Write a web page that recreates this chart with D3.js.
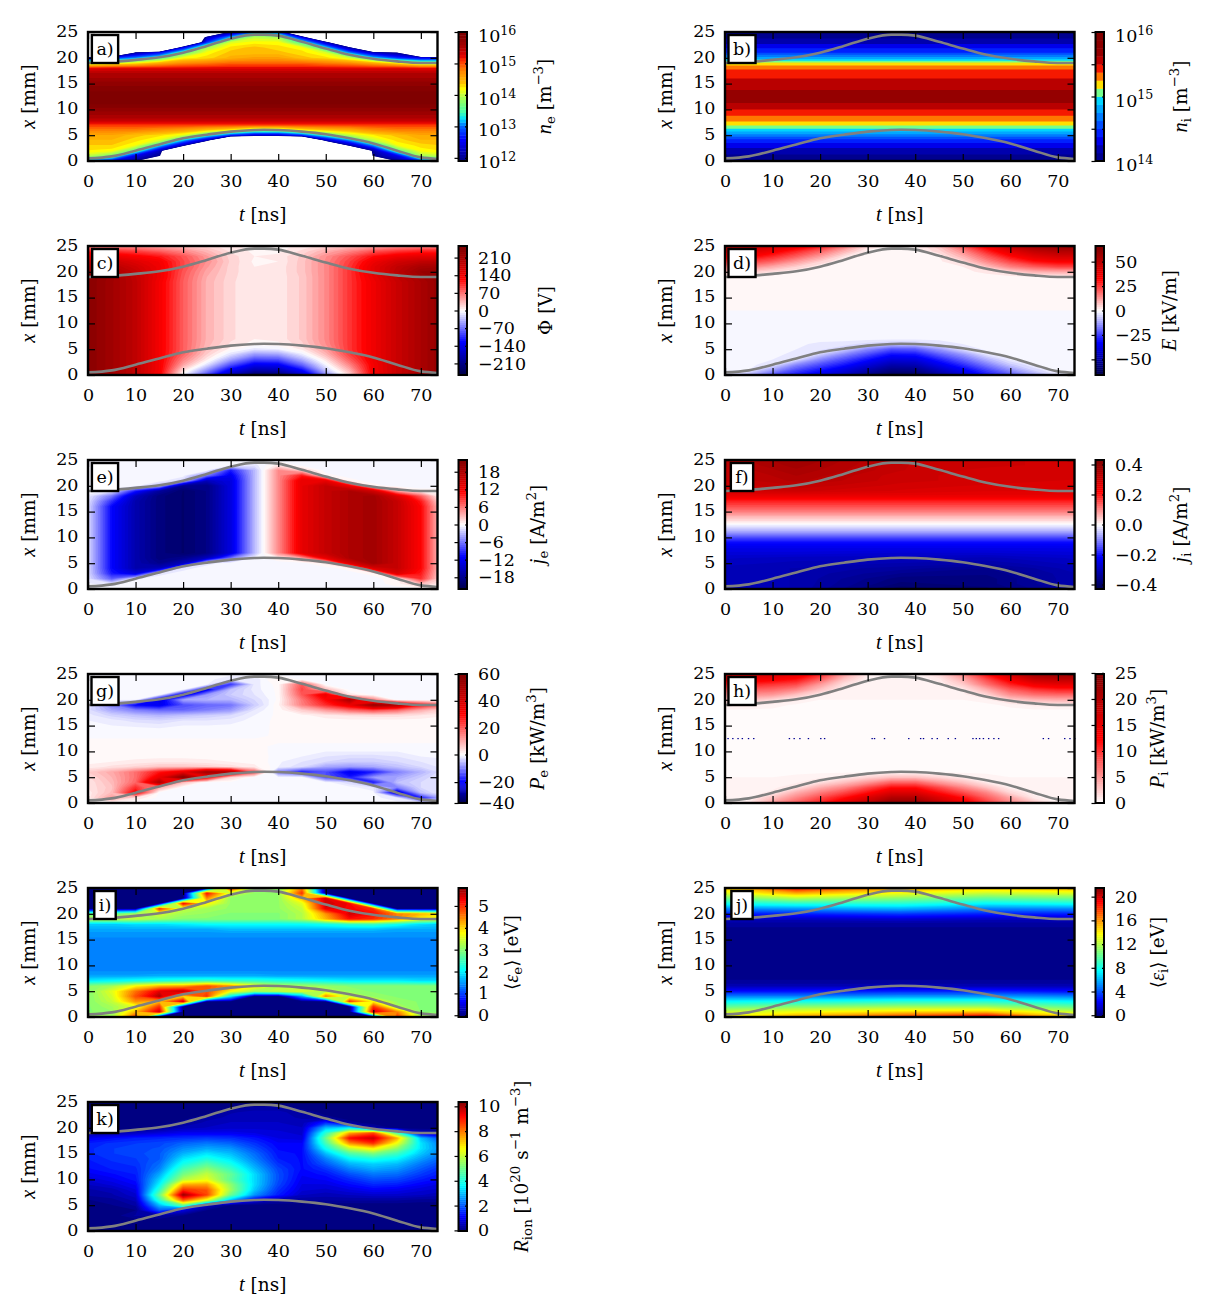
<!DOCTYPE html>
<html>
<head>
<meta charset="utf-8">
<script src="https://cdn.jsdelivr.net/npm/d3@7"></script>
<style>
	html, body { margin: 0; padding: 0; background: #fff; }
	svg { display: block; }
	text { font-family: "DejaVu Serif", serif; fill: #000; }
</style>
</head>
<body>
<svg id="chart" width="1218" height="1316"></svg>
<script>
const tFine = [0,5,10,15,20,25,30,35,40,45,50,55,60,65,70,73.5];
const tCoarse = [0,15,37,55,73.5];
const tEnds = [0,73.5];
const xRows = [25,24,23,22,21,20,19,18,17,16,15,14,13,12,11,10,9,8,7,6,5,4,3,2,1,0];

// sheath edges
const edgeT = [0,5,10,15,20,25,30,35,37,40,45,50,55,60,65,70,73.5];
const edgeLow = [0.5,0.9,2,3.2,4.4,5.1,5.7,6,6.05,6,5.7,5.2,4.4,3.4,2,0.7,0.4];
const edgeHigh = [19,19.2,19.6,20.1,21,22.3,23.7,24.5,24.5,24.3,23.1,21.8,20.6,19.8,19.3,19,19];

// a) log10 of n_e, o = far below the colour range (left white)
const o = 9;
const neLog = [
	[o,o,o,o,o,o,12.1,13,12.8,o,o,o,o,o,o,o],
	[o,o,o,o,o,12.2,13.2,14,13.9,12.5,o,o,o,o,o,o],
	[o,o,o,o,o,12.8,14.1,14.2,14.2,13.5,12.3,o,o,o,o,o],
	[o,o,o,o,12.5,13.9,14.3,14.4,14.3,14.2,13.3,12.1,o,o,o,o],
	[o,o,12.1,12.6,13.6,14.2,14.4,14.4,14.4,14.3,14.1,13.1,12.3,12,o,o],
	[12.5,12.7,13.1,13.5,14.2,14.3,14.5,14.6,14.6,14.4,14.3,14.05,13.3,12.8,12.5,12.5],
	[13.8,14,14.2,14.5,14.7,14.8,14.9,14.9,14.9,14.9,14.8,14.7,14.5,14.2,13.8,13.8],
	[15.2,15.25,15.25,15.25,15.25,15.25,15.25,15.25,15.25,15.25,15.25,15.25,15.25,15.25,15.2,15.2],
	[15.5,15.5,15.5,15.5,15.5,15.5,15.5,15.5,15.5,15.5,15.5,15.5,15.5,15.5,15.5,15.5],
	[15.6,15.6,15.6,15.6,15.6,15.6,15.6,15.6,15.6,15.6,15.6,15.6,15.6,15.6,15.6,15.6],
	[15.75,15.75,15.75,15.75,15.75,15.75,15.75,15.75,15.75,15.75,15.75,15.75,15.75,15.75,15.75,15.75],
	[15.85,15.85,15.85,15.85,15.85,15.85,15.85,15.85,15.85,15.85,15.85,15.85,15.85,15.85,15.85,15.85],
	[15.95,15.95,15.95,15.95,15.95,15.95,15.95,15.95,15.95,15.95,15.95,15.95,15.95,15.95,15.95,15.95],
	[15.95,15.95,15.95,15.95,15.95,15.95,15.95,15.95,15.95,15.95,15.95,15.95,15.95,15.95,15.95,15.95],
	[15.9,15.9,15.9,15.9,15.9,15.9,15.9,15.9,15.9,15.9,15.9,15.9,15.9,15.9,15.9,15.9],
	[15.75,15.75,15.75,15.75,15.75,15.75,15.75,15.75,15.75,15.75,15.75,15.75,15.75,15.75,15.75,15.75],
	[15.6,15.6,15.6,15.6,15.6,15.6,15.6,15.6,15.6,15.6,15.6,15.6,15.6,15.6,15.6,15.6],
	[15.45,15.45,15.45,15.45,15.45,15.45,15.45,15.45,15.45,15.45,15.45,15.45,15.45,15.45,15.45,15.45],
	[15.1,15.1,15.1,15.1,15.1,15.1,15.1,15.1,15.1,15.1,15.1,15.1,15.1,15.1,15.1,15.1],
	[14.8,14.8,14.8,14.7,14.6,14.4,14.2,13.8,13.8,14.2,14.4,14.5,14.7,14.8,14.8,14.8],
	[14.55,14.55,14.4,14.3,14.1,13.5,12.8,12.4,12.4,12.8,13.5,14,14.25,14.4,14.55,14.55],
	[14.45,14.45,14.3,14.1,13.2,12.3,o,o,o,o,12.3,13.1,14,14.3,14.45,14.45],
	[14.35,14.35,14.15,13.3,12.2,o,o,o,o,o,o,12.1,13.1,14.15,14.3,14.35],
	[14.25,14.2,13.6,12.3,o,o,o,o,o,o,o,o,12.1,13.6,14.2,14.25],
	[14,13.7,12.5,12,o,o,o,o,o,o,o,o,12,12.5,13.9,14],
	[13,12.6,12,o,o,o,o,o,o,o,o,o,o,12,12.8,13.1]
];

// b) log10 of n_i, no visible change with t
const niLog = [
	[14.05,14.05],[14.1,14.1],[14.2,14.2],[14.35,14.35],[14.5,14.5],[14.8,14.8],[15.15,15.15],[15.35,15.35],[15.45,15.45],
	[15.5,15.5],[15.52,15.52],[15.6,15.6],[15.7,15.7],[15.7,15.7],[15.6,15.6],[15.5,15.5],[15.4,15.4],[15.3,15.3],
	[15.15,15.15],[14.95,14.95],[14.7,14.7],[14.45,14.45],[14.3,14.3],[14.2,14.2],[14.1,14.1],[14.05,14.05]
];

// c) potential
const phiMid = [240,218,188,135,80,38,18,8,10,26,58,100,140,178,208,228];
const phi = [
	[50,50,50,40,30,20,10,5,5,10,20,30,40,50,55,55],
	[110,105,95,80,60,36,14,6,6,18,40,60,85,100,110,110],
	[150,145,130,115,85,50,20,8,10,26,55,85,120,140,150,150],
	[190,175,155,135,90,55,22,6,8,28,58,95,140,170,185,190],
	[215,195,170,140,90,50,20,8,10,28,58,100,150,185,210,215],
	[230,210,180,140,85,44,20,8,10,28,58,100,150,190,225,230],
	[240,220,185,140,82,40,19,8,10,26,58,100,145,185,215,230],
	phiMid,phiMid,phiMid,phiMid,phiMid,phiMid,phiMid,phiMid,phiMid,phiMid,phiMid,phiMid,
	[240,218,188,135,80,36,14,4,6,22,56,100,140,178,208,228],
	[240,218,188,135,80,32,4,-12,-8,10,48,100,140,178,208,228],
	[240,218,188,135,76,24,-15,-50,-45,-10,35,95,140,178,208,228],
	[240,218,188,135,62,10,-45,-90,-85,-40,15,80,140,178,208,228],
	[240,218,188,135,45,-15,-85,-135,-130,-75,-5,60,135,178,208,228],
	[240,218,188,135,20,-50,-130,-180,-175,-120,-25,40,135,178,208,228],
	[240,218,188,130,-5,-90,-180,-235,-230,-170,-60,20,130,178,208,228]
];

// d) field
const ePos = [1.2,1.2,1.2,1.2,1.2,1.2,1.2,1.2,1.2,1.2,1.2,1.2,1.2,1.2,1.2,1.2];
const eNeg = [-1.2,-1.2,-1.2,-1.2,-1.2,-1.2,-1.2,-1.2,-1.2,-1.2,-1.2,-1.2,-1.2,-1.2,-1.2,-1.2];
const field = [
	[50,50,45,38,30,18,5,1.2,1.2,8,22,36,50,58,62,62],
	[42,42,36,28,20,10,1.2,1.2,1.2,5,15,28,40,48,52,52],
	[34,34,28,21,13,4,1.2,1.2,1.2,2,10,21,32,40,44,44],
	[26,25,20,13,6,1.2,1.2,1.2,1.2,1.5,5,15,24,31,34,34],
	[17,16,11,6,2,1.2,1.2,1.2,1.2,1.2,2,8,16,21,24,24],
	[8,7,4,2,1.2,1.2,1.2,1.2,1.2,1.2,1.5,2.5,6,10,11,11],
	ePos,ePos,ePos,ePos,ePos,ePos,ePos,
	eNeg,eNeg,eNeg,eNeg,eNeg,eNeg,
	[-1.2,-1.2,-1.2,-1.5,-2.5,-3,-5,-7,-7,-4,-2,-1.2,-1.2,-1.2,-1.2,-1.2],
	[-1.2,-1.2,-1.2,-2,-3.5,-6,-15,-22,-21,-13,-4,-1.5,-1.2,-1.2,-1.2,-1.2],
	[-1.2,-1.2,-1.5,-2.5,-6,-15,-23,-31,-30,-21,-13,-3,-1.5,-1.2,-1.2,-1.2],
	[-1.2,-1.2,-2,-4,-15,-23,-31,-39,-38,-29,-20,-10,-2,-1.2,-1.2,-1.2],
	[-1.2,-1.5,-3,-15,-23,-30,-39,-47,-46,-36,-27,-17,-7,-2,-1.2,-1.2],
	[-1.5,-2,-12,-23,-30,-38,-47,-55,-54,-44,-34,-24,-14,-5,-1.5,-1.5],
	[-4,-10,-22,-30,-38,-45,-55,-63,-62,-52,-42,-30,-22,-12,-3,-2]
];

// e) electron current
const jeMid = [-1.5,-11,-16,-19,-20,-18.5,-13,-3,5,13,16,18,19,16,11,3.5];
const je = [
	[-.3,-.3,-.3,-.3,-.3,-.3,-.3,-.3,-.3,-.3,-.3,-.3,-.3,-.3,-.3,-.3],
	[-.3,-.3,-.3,-.3,-.3,-.3,-.3,-1,1,-.3,-.3,-.3,-.3,-.3,-.3,-.3],
	[-.3,-.3,-.3,-.3,-.3,-.3,-10,-3,5,2,-.3,-.3,-.3,-.3,-.3,-.3],
	[-.3,-.3,-.3,-.3,-.3,-6,-12,-3,5,10,.3,-.3,-.3,-.3,-.3,-.3],
	[-.3,-.3,-.3,-.3,-2,-15,-13,-3,5,13,13,.3,-.3,-.3,-.3,-.3],
	[-.3,-.3,-.3,-3,-18,-18.5,-13,-3,5,13,16,12,.3,-.3,-.3,-.3],
	[-.3,-1,-10,-17,-20,-18.5,-13,-3,5,13,16,18,15,4,.3,.3],
	[-.8,-6,-15,-19,-20,-18.5,-13,-3,5,13,16,18,19,14,7,1],
	[-1.2,-9,-16,-19,-20,-18.5,-13,-3,5,13,16,18,19,16,10,2.5],
	jeMid,jeMid,jeMid,jeMid,jeMid,jeMid,jeMid,jeMid,jeMid,jeMid,
	[-1.5,-11,-16,-19,-18,-15,-6,-.5,.5,4,13,18,19,16,11,3.5],
	[-1.5,-11,-16,-18,-15,-1,-.3,-.3,-.3,-.3,1,14,19,16,11,3.5],
	[-1.5,-11,-16,-15,-1,-.3,-.3,-.3,-.3,-.3,-.3,.3,14,16,11,3.5],
	[-1.5,-10,-13,-1,-.3,-.3,-.3,-.3,-.3,-.3,-.3,-.3,.3,14,10,3],
	[-1.2,-7,-.8,-.3,-.3,-.3,-.3,-.3,-.3,-.3,-.3,-.3,-.3,.5,9,2.5],
	[-.6,-1,-.3,-.3,-.3,-.3,-.3,-.3,-.3,-.3,-.3,-.3,-.3,.3,3,1],
	[-.3,-.3,-.3,-.3,-.3,-.3,-.3,-.3,-.3,-.3,-.3,-.3,-.3,-.3,-.3,-.3]
];

// f) ion current, columns at tCoarse
const ji = [
	[.33,.38,.31,.30,.29],[.33,.37,.31,.30,.29],[.32,.36,.31,.29,.29],[.31,.35,.30,.29,.29],[.31,.34,.30,.29,.28],
	[.30,.32,.29,.28,.28],[.29,.30,.28,.27,.27],[.25,.25,.25,.25,.25],[.19,.19,.19,.19,.19],[.15,.15,.15,.15,.15],
	[.11,.11,.11,.11,.11],[.06,.06,.06,.06,.06],[.02,.02,.02,.02,.02],[-.03,-.03,-.03,-.03,-.03],[-.08,-.08,-.08,-.08,-.08],
	[-.15,-.15,-.15,-.15,-.15],[-.21,-.21,-.21,-.21,-.21],[-.24,-.24,-.24,-.24,-.24],[-.26,-.26,-.27,-.27,-.26],
	[-.28,-.29,-.29,-.30,-.28],[-.29,-.30,-.31,-.32,-.29],[-.30,-.31,-.33,-.35,-.30],[-.30,-.31,-.35,-.36,-.31],
	[-.30,-.31,-.37,-.37,-.31],[-.30,-.31,-.38,-.37,-.31],[-.30,-.31,-.40,-.38,-.32]
];

// g) electron power
const pe = [
	[-.5,-.5,-.5,-.5,-.5,-.5,-.5,-.5,-.5,-.5,-.5,-.5,-.5,-.5,-.5,-.5],
	[-.5,-.5,-.5,-.5,-.5,-.5,-2,-2,2,-.5,-.5,-.5,-.5,-.5,-.5,-.5],
	[-.5,-.5,-.5,-.5,-.5,-.5,-16,-1.5,.5,20,-.5,-.5,-.5,-.5,-.5,-.5],
	[-.5,-.5,-.5,-.5,-.5,-22,-5,-1.5,.3,22,8,-.5,-.5,-.5,-.5,-.5],
	[-.5,-.5,-.5,-.5,-24,-8,-4,-2,.3,20,35,3,-.5,-.5,-.5,-.5],
	[-.5,-.5,-1,-24,-7,-6,-6,-3,.3,16,30,50,15,-.5,-.5,-.5],
	[-1.5,-10,-20,-22,-14,-12,-11,-4,1,15,25,35,55,48,28,20],
	[-2.5,-7,-10,-12,-12,-10,-8,-2,.5,6,12,18,22,18,10,6],
	[-1.5,-3.5,-5,-6,-5,-4,-3,-1,.3,1,2.5,3.5,4,4,3,2],
	[-1,-1.5,-2.5,-3,-2,-2,-1.5,-.6,.3,.5,.8,1,1,1,.8,.6],
	[-.6,-1,-1.2,-1.5,-1,-1,-.8,-.5,.3,.4,.5,.5,.5,.5,.4,.4],
	[-.5,-.5,-.5,-.5,-.5,-.5,-.5,-.5,.3,.3,.3,.3,.3,.3,.3,.3],
	[-.4,-.4,-.4,-.4,-.4,-.4,-.4,-.4,.3,.3,.3,.3,.3,.3,.3,.3],
	[.4,.4,.4,.4,.4,.4,.4,.4,.3,.3,.3,.3,.3,.3,.3,.3],
	[.5,.5,.5,.5,.5,.5,.5,.5,-.4,-.4,-.4,-.4,-.4,-.4,-.4,-.4],
	[.5,.5,.5,.5,.5,.5,.5,.5,-.4,-.5,-1,-1,-1,-1,-.8,-.5],
	[.6,.8,1,1,1,1,.8,.6,-.4,-1,-2,-2.5,-2.5,-2,-1,-.8],
	[1,1.5,2,2.5,2.5,2,1.5,1,-.8,-2,-3,-4,-4,-3,-2,-1.5],
	[2,3.5,5,7,7,6,4,2,-1,-3,-7,-8,-7,-5,-3,-2],
	[6,10,17,28,35,52,48,20,-10,-18,-14,-22,-18,-10,-6,-3],
	[4,9,17,35,58,32,5,-.5,-.5,-.5,-14,-18,-8,-7,-4,-2],
	[3,8,18,50,8,-.5,-.5,-.5,-.5,-.5,-.5,-3,-18,-5,-3,-2],
	[3,7,25,10,-.5,-.5,-.5,-.5,-.5,-.5,-.5,-.5,-2,-10,-3,-2],
	[2,8,32,-.5,-.5,-.5,-.5,-.5,-.5,-.5,-.5,-.5,-.5,-25,-5,-2],
	[2,12,3,-.5,-.5,-.5,-.5,-.5,-.5,-.5,-.5,-.5,-.5,-2,-18,-8],
	[-.5,-.5,-.5,-.5,-.5,-.5,-.5,-.5,-.5,-.5,-.5,-.5,-.5,-.5,-1,-3]
];

// h) ion power
const piMid = [.15,.15,.15,.15,.15,.15,.15,.15,.15,.15,.15,.15,.15,.15,.15,.15];
const pi = [
	[17,17,17,15,11,5,1,.5,.5,2,6,12,18,22,23,22],
	[14,14,13.5,12,8,3,.6,.4,.4,1,4,9,14,18,19,19],
	[11,11,10,9,5,1.5,.5,.4,.4,.7,2.5,7,11,14,15,15],
	[8,8,7.5,6,3,.8,.4,.4,.4,.5,1,4,8,10,11,11],
	[5.5,5.5,5,3,1,.4,.4,.4,.4,.4,.6,2,5.5,7,7.5,7.5],
	[3,3,2,1,.4,.4,.4,.4,.4,.4,.4,.6,2.5,3.5,4,4],
	[1,1,.6,.3,.3,.3,.3,.3,.3,.3,.3,.3,.5,1,1,1],
	[.3,.3,.3,.3,.3,.3,.3,.3,.3,.3,.3,.3,.3,.3,.3,.3],
	piMid,piMid,piMid,piMid,piMid,piMid,piMid,piMid,piMid,piMid,
	[.2,.2,.2,.2,.2,.2,.2,.2,.2,.2,.2,.2,.2,.2,.2,.2],
	[.3,.3,.3,.3,.3,.3,.3,.3,.3,.3,.3,.3,.3,.3,.3,.3],
	[.4,.4,.4,.5,.7,1,2,3,3,2,1,.6,.4,.4,.4,.4],
	[.4,.4,.5,.7,1.5,3,5,7.5,7.5,5,3,1,.5,.4,.4,.4],
	[.4,.4,.6,1.5,4,6,9,12,12,9,6,3,.7,.5,.4,.4],
	[.4,.5,1,4,6.5,9,12,16,16,12,9,6,2,.6,.4,.4],
	[.5,.6,3,6,9,12,16,20,20,16,12,8,4.5,1,.4,.4],
	[.6,1,5,8,11,15,19,24,24,19,14,10,6,3,.5,.5]
];
// the blue specks near the middle of h)
const speckT = [.5,1.5,2.6,3.5,4.8,5.9,13.4,14.4,15.6,17.4,20,20.8,30.8,31.3,33.4,38.5,41,41.6,43.4,44.5,46.8,48.3,52,52.7,53.4,54.2,55.3,56.4,57.4,66.8,67.9,71.3,72.4,73.4];
const speckX = 12.6;

// i) mean electron energy
const eeMid = [1.35,1.35,1.35,1.35,1.35,1.35,1.35,1.35,1.35,1.35,1.35,1.35,1.35,1.35,1.35,1.35];
const ee = [
	[0,0,0,0,0,0,5.2,3,3,4.5,0,0,0,0,0,0],
	[0,0,0,0,0,5.2,3.5,3.1,3.1,5,0,0,0,0,0,0],
	[0,0,0,0,0,4.5,3.1,3.1,3.1,4.2,5.5,0,0,0,0,0],
	[0,0,0,0,5.3,3.8,3.1,3.1,3.1,3.6,5.5,5.3,0,0,0,0],
	[0,0,0,5,3.4,3.2,3.1,3.1,3.1,3.4,5.4,5.3,5,0,0,0],
	[2.8,2.8,3.2,3.5,3.2,3.1,3,3,3,3.3,4.4,5.5,5.2,4.5,4.2,4],
	[3.4,3.4,3.4,3.2,3,3,3,3,3,3.3,4.2,5.2,5,4.5,3.8,3.6],
	[1.8,1.8,1.9,1.9,2,2.1,2.1,2.1,2.1,2.1,2.2,2.4,2.5,2.2,1.9,1.8],
	[1.6,1.6,1.6,1.6,1.6,1.6,1.7,1.7,1.7,1.7,1.7,1.7,1.7,1.6,1.6,1.6],
	[1.45,1.45,1.45,1.45,1.45,1.45,1.45,1.45,1.45,1.45,1.45,1.45,1.45,1.45,1.45,1.45],
	[1.4,1.4,1.4,1.4,1.4,1.4,1.4,1.4,1.4,1.4,1.4,1.4,1.4,1.4,1.4,1.4],
	[1.35,1.35,1.35,1.35,1.35,1.35,1.35,1.35,1.35,1.35,1.35,1.35,1.35,1.35,1.35,1.35],
	eeMid,eeMid,eeMid,eeMid,
	[1.4,1.4,1.4,1.4,1.4,1.4,1.4,1.4,1.4,1.4,1.4,1.4,1.4,1.4,1.4,1.4],
	[1.55,1.55,1.55,1.6,1.6,1.6,1.6,1.6,1.55,1.55,1.55,1.55,1.55,1.55,1.55,1.55],
	[2,2.1,2.2,2.3,2.4,2.5,2.4,2.4,2.3,2.2,2.1,2,2,2,1.9,1.9],
	[3,3.2,3.8,4.2,4.3,4.8,4.4,3.8,3.3,3.2,3.1,3,3,3,3,3],
	[3,3.6,4.6,5.4,5.6,4.8,3.8,3.2,3.4,3.6,3.3,3.1,3,3,3,3],
	[3,3.5,4.8,5.7,4,5,2,0,0,1.5,4.5,3.4,3.1,3,3,3],
	[3,3.4,4.4,4.2,5.5,0,0,0,0,0,0,5,3.8,3.1,3,3],
	[3,3.2,3.6,5,0,0,0,0,0,0,0,0,5,3.2,3,3],
	[3,3.1,4.2,5.5,0,0,0,0,0,0,0,0,5.5,4.5,3,3],
	[3.2,3.2,5,0,0,0,0,0,0,0,0,0,0,5,3.3,3.2]
];

// j) mean ion energy, columns at tCoarse
const ei = [
	[15,19,16,15,15.5],[13,15.5,13.5,12.5,13],[10.5,12,11,10,10.5],[8,8.5,8.5,7.5,8],[5.2,5.5,6,5,5.2],[3,3,3.5,3,3],
	[1.2,1.2,1.5,1.2,1.2],[.5,.5,.5,.5,.5],[.3,.3,.3,.3,.3],[.3,.3,.3,.3,.3],[.3,.3,.3,.3,.3],[.3,.3,.3,.3,.3],[.3,.3,.3,.3,.3],
	[.3,.3,.3,.3,.3],[.3,.3,.3,.3,.3],[.3,.3,.3,.3,.3],[.3,.3,.3,.3,.3],[.3,.3,.3,.3,.3],[.4,.4,.4,.4,.4],[1,1,1,1,1],
	[2.5,2.6,3,3,2.5],[5,5,5.5,5.5,5],[7.5,8,8.5,8.5,7.5],[10,11,11.5,11.5,10],[12.5,13.5,14.5,15,12.5],[14,16,18,20,15]
];

// k) ionisation rate
const rIon = [
	[0,0,0,0,0,0,0,0,0,0,0,0,0,0,0,0],
	[0,0,0,0,0,0,.1,.3,.3,0,0,0,0,0,0,0],
	[0,0,0,0,0,0,.4,.5,.5,.3,0,0,0,0,0,0],
	[0,0,0,0,0,.3,.5,.5,.5,.4,.2,0,0,0,0,0],
	[0,0,0,0,.2,.5,.6,.6,.6,.5,1.5,.2,0,0,0,0],
	[0,0,0,.2,.5,.6,.7,.7,.7,.6,3,3.5,.4,0,0,0],
	[.3,.4,.6,.8,1,1,1,.9,.8,.7,4.2,7.5,8.5,4.5,.6,.4],
	[1,1.2,1.4,1.5,1.6,1.7,1.6,1.3,.9,.8,5,9.2,9.8,7.5,3,2],
	[1.4,1.6,1.7,1.8,2.1,2.3,2.1,1.6,1.1,1.1,4.5,7.8,8.8,6.5,3.4,2.5],
	[1.5,1.7,1.8,1.9,2.5,2.8,2.6,1.9,1.2,1.2,3.8,6,6.8,5.4,3.4,2.6],
	[1.5,1.7,1.8,2,2.9,3.4,3,2.2,1.3,1.2,3,4.6,5.2,4.4,3.1,2.5],
	[1.4,1.6,1.7,2,3.4,4,3.4,2.4,1.4,1.2,2.4,3.6,4,3.6,2.7,2.2],
	[1.3,1.5,1.6,2.2,3.9,4.7,3.9,2.7,1.6,1.2,2,2.9,3.2,3,2.3,1.9],
	[1.2,1.4,1.5,2.4,4.5,5.4,4.4,3,1.8,1.2,1.6,2.4,2.8,2.6,2,1.6],
	[1,1.2,1.4,2.8,5.1,6,4.9,3.3,1.9,1.1,1.3,1.9,2.3,2.2,1.7,1.4],
	[.8,1,1.3,3.2,5.8,6.4,4.8,3.3,1.9,1,1.1,1.5,1.9,1.8,1.4,1.2],
	[.6,.8,1.1,3.6,7.5,7.6,5.4,3.3,1.8,.9,.9,1.2,1.5,1.4,1.1,.9],
	[.4,.5,.9,4.2,8.8,8.4,5.6,3.1,1.6,.8,.7,.9,1.1,1,.8,.7],
	[.3,.4,.7,5,10.2,8.6,5,2.6,1.4,.6,.5,.6,.7,.7,.6,.5],
	[.1,.2,.5,4.2,8.4,6.5,3,1,.4,.3,.3,.3,.3,.3,.2,.2],
	[0,.1,.3,3,5,.6,.1,0,0,0,0,0,0,0,0,0],
	[0,0,.1,2,.8,.1,0,0,0,0,0,0,0,0,0,0],
	[0,0,.3,.3,.1,0,0,0,0,0,0,0,0,0,0,0],
	[0,0,0,0,0,0,0,0,0,0,0,0,0,0,0,0],
	[0,0,0,0,0,0,0,0,0,0,0,0,0,0,0,0],
	[0,0,0,0,0,0,0,0,0,0,0,0,0,0,0,0]
];

// Colour tick labels
const ticksNe = [12,13,14,15,16];
const ticksNi = [14,14.5,15,15.5,16];
const ticksPhi = [-210,-140,-70,0,70,140,210];
const ticksE = [-50,-25,0,25,50];
const ticksJe = [-18,-12,-6,0,6,12,18];
const ticksJi = [-.4,-.2,0,.2,.4];
const ticksPe = [-40,-20,0,20,40,60];
const ticksPi = [0,5,10,15,20,25];
const ticksEe = [0,1,2,3,4,5];
const ticksEi = [0,4,8,12,16,20];
const ticksR = [0,2,4,6,8,10];

const tTicks = [0,10,20,30,40,50,60,70];
const xTicks = [0,5,10,15,20,25];

// Colour maps
function jet(lo, hi) {
	let pos = [0,.11,.35,.5,.64,.89,1];
	return d3.scaleLinear().domain(pos.map(p => lo + p * (hi - lo)))
		.range(['#00007f','#0000ff','#00ffff','#7dff7a','#ffff00','#ff0000','#7f0000']).clamp(true);
}
function seismic(r) {
	return d3.scaleLinear().domain([-r,-r / 2,0,r / 2,r])
		.range(['#00004c','#0000ff','#ffffff','#ff0000','#7f0000']).clamp(true);
}
let neColor = d3.scaleLinear()
	.domain([11.9,12.6,13,13.25,13.45,13.75,14,14.2,14.4,14.8,15.1,15.25,15.6,15.9])
	.range(['#00007f','#0000ff','#0064ff','#00e0ff','#40ffb0','#80ff70','#c0ff40','#ffff00','#ffc000','#ff8000','#ff3000','#e00000','#a00000','#800000']).clamp(true);
let niColor = d3.scaleLinear()
	.domain([14,14.2,14.35,14.7,14.95,15.05,15.15,15.3,15.42,15.5,15.65,16])
	.range(['#00007f','#0000b0','#0000ff','#0080ff','#00d8ff','#60ffa0','#ffff00','#ff8000','#ff2000','#d00000','#980000','#7f0000']).clamp(true);
let peColor = d3.scaleLinear().domain([-40,-20,0,30,60])
	.range(['#00004c','#0000ff','#ffffff','#ff0000','#7f0000']).clamp(true);
let piColor = d3.scaleLinear().domain([0,12.5,25]).range(['#ffffff','#ff0000','#7f0000']).clamp(true);

let f1 = d3.format('.1f');
let sup = (s) => [s,'sup'];
let sub = (s) => [s,'sub'];
let ital = (s) => [s,'i'];

let panels = [
	{ tag: 'a)', col: 0, row: 0, rows: neLog, t: tFine, color: neColor, levels: d3.range(11.9,16.001,.1025), ticks: ticksNe, log: true, labelX: 92,
		label: [ital('n'),sub('e'),[' [m'],sup('−3'),[']']] },
	{ tag: 'b)', col: 1, row: 0, rows: niLog, t: tEnds, color: niColor, levels: d3.range(14,16.001,.125), ticks: ticksNi, log: true, labelX: 91,
		label: [ital('n'),sub('i'),[' [m'],sup('−3'),[']']] },
	{ tag: 'c)', col: 0, row: 1, rows: phi, t: tFine, color: seismic(250), levels: d3.range(-256,256.1,8), ticks: ticksPhi, labelX: 93,
		label: [['Φ [V]']] },
	{ tag: 'd)', col: 1, row: 1, rows: field, t: tFine, color: seismic(65), levels: d3.range(-66,66.1,2), ticks: ticksE, labelX: 80,
		label: [ital('E'),[' [kV/m]']] },
	{ tag: 'e)', col: 0, row: 2, rows: je, t: tFine, color: seismic(22), levels: d3.range(-22,22.01,.6875), ticks: ticksJe, labelX: 85,
		label: [ital('j'),sub('e'),[' [A/m'],sup('2'),[']']] },
	{ tag: 'f)', col: 1, row: 2, rows: ji, t: tCoarse, color: seismic(.43), levels: d3.range(-.43,.4301,.0134375), ticks: ticksJi, fmt: f1, labelX: 91,
		label: [ital('j'),sub('i'),[' [A/m'],sup('2'),[']']] },
	{ tag: 'g)', col: 0, row: 3, rows: pe, t: tFine, color: peColor, levels: d3.range(-40,0,1).concat(d3.range(0,60.1,1.5)), ticks: ticksPe, labelX: 85,
		barDomain: [-40,-20,0,60], barFrac: [0,.162,.376,1],
		label: [ital('P'),sub('e'),[' [kW/m'],sup('3'),[']']] },
	{ tag: 'h)', col: 1, row: 3, rows: pi, t: tFine, color: piColor, levels: d3.range(0,25.01,.4), ticks: ticksPi, specks: speckT, labelX: 68,
		label: [ital('P'),sub('i'),[' [kW/m'],sup('3'),[']']] },
	{ tag: 'i)', col: 0, row: 4, rows: ee, t: tFine, color: jet(0,5.9), levels: d3.range(-.08,5.92,.1), ticks: ticksEe, labelX: 59,
		label: [['⟨'],ital('ε'),sub('e'),['⟩ [eV]']] },
	{ tag: 'j)', col: 1, row: 4, rows: ei, t: tCoarse, color: jet(0,21.5), levels: d3.range(-.3,21.51,.34), ticks: ticksEi, labelX: 68,
		label: [['⟨'],ital('ε'),sub('i'),['⟩ [eV]']] },
	{ tag: 'k)', col: 0, row: 5, rows: rIon, t: tFine, color: jet(0,10.4), levels: d3.range(-.05,10.41,.16), ticks: ticksR, labelX: 69,
		label: [ital('R'),sub('ion'),[' [10'],sup('20'),['  s'],sup('−1'),['  m'],sup('−3'),[']']] }
];

let colLeft = [88,725];
let rowTop = [32,246,460,674,888,1102];
let plotW = 349.5;
let plotH = 129;
let barGap = 21;
let barW = 8.5;
let tickFont = 17.5;
let labelFont = 18.5;

let svg = d3.select('#chart');

// writes a label made of plain, italic, sub and superscript runs
function richText(sel, parts, size, startDy) {
	let shift = 0;
	parts.forEach(function(p, i) {
		let kind = p[1];
		let target = kind == 'sub' ? size * .25 : kind == 'sup' ? -size * .42 : 0;
		let ts = sel.append('tspan')
			.attr('dy', (target - shift) + (i == 0 && startDy ? startDy : 0))
			.attr('font-size', kind == 'sub' || kind == 'sup' ? size * .72 : size)
			.text(p[0]);
		if(kind == 'i') ts.attr('font-style', 'italic').attr('font-family', '"Liberation Serif", serif').attr('font-size', size * 1.1);
		shift = target;
	});
}

function styleAxis(g) {
	g.select('.domain').remove();
	g.selectAll('line').attr('stroke', '#000').attr('stroke-width', 1.2);
}

panels.forEach(function(p, idx) {
	let left = colLeft[p.col];
	let top = rowTop[p.row];
	let g = svg.append('g').attr('class', 'panel').attr('transform', 'translate(' + left + ',' + top + ')');

	let tScale = d3.scaleLinear().domain([0,73.5]).range([0,plotW]);
	let xScale = d3.scaleLinear().domain([0,25]).range([plotH,0]);

	g.append('clipPath').attr('id', 'clip' + idx)
		.append('rect').attr('width', plotW).attr('height', plotH);

	// filled contours on the read grid, in grid index space
	let nCols = p.rows[0].length;
	let nRows = p.rows.length;
	let sx = d3.scaleLinear().domain(p.t.map((d, i) => i + .5)).range(p.t.map(tScale));
	let sy = d3.scaleLinear().domain(xRows.map((d, i) => i + .5)).range(xRows.map(xScale));
	let path = d3.geoPath(d3.geoTransform({
		point: function(a, b) { this.stream.point(sx(a), sy(b)); }
	}));
	let bands = d3.pairs(p.levels);
	let contours = d3.contours()
		.size([nCols,nRows])
		.thresholds(p.levels.slice(0, -1))(p.rows.flat());

	g.append('g').attr('clip-path', 'url(#clip' + idx + ')')
		.selectAll('path')
		.data(contours)
		.enter()
		.append('path')
		.attr('d', path)
		.attr('fill', (d, i) => p.color((bands[i][0] + bands[i][1]) / 2));

	if(p.specks) {
		g.append('g').selectAll('rect')
			.data(p.specks)
			.enter()
			.append('rect')
			.attr('x', (d) => tScale(d))
			.attr('y', xScale(speckX))
			.attr('width', 1.4)
			.attr('height', 1.2)
			.attr('fill', '#000090');
	}

	// sheath edges
	let line = d3.line()
		.x((d, i) => tScale(edgeT[i]))
		.y((d) => xScale(d))
		.curve(d3.curveMonotoneX);
	g.append('g').attr('clip-path', 'url(#clip' + idx + ')')
		.selectAll('path')
		.data([edgeLow,edgeHigh])
		.enter()
		.append('path')
		.attr('d', line)
		.attr('fill', 'none')
		.attr('stroke', '#808080')
		.attr('stroke-width', 2.6);

	// axes, ticks point inwards on all four sides
	g.append('g').attr('transform', 'translate(0,' + plotH + ')')
		.call(d3.axisBottom(tScale).tickValues(tTicks).tickSize(-7).tickPadding(14).tickFormat(d3.format('d')))
		.call(styleAxis)
		.selectAll('text').attr('font-size', tickFont).attr('fill', '#000').attr('font-family', '"DejaVu Serif", serif');
	g.append('g')
		.call(d3.axisTop(tScale).tickValues(tTicks).tickSize(-7).tickFormat(''))
		.call(styleAxis);
	g.append('g')
		.call(d3.axisLeft(xScale).tickValues(xTicks).tickSize(-7).tickPadding(9.5).tickFormat(d3.format('d')))
		.call(styleAxis)
		.selectAll('text').attr('font-size', tickFont).attr('fill', '#000').attr('font-family', '"DejaVu Serif", serif').attr('dy', '.25em');
	g.append('g').attr('transform', 'translate(' + plotW + ',0)')
		.call(d3.axisRight(xScale).tickValues(xTicks).tickSize(-7).tickFormat(''))
		.call(styleAxis);

	g.append('rect')
		.attr('width', plotW).attr('height', plotH)
		.attr('fill', 'none').attr('stroke', '#000').attr('stroke-width', 2.4);

	// panel tag
	let tagG = g.append('g').attr('transform', 'translate(17,17)');
	let tagBox = tagG.append('rect');
	let tagText = tagG.append('text')
		.attr('text-anchor', 'middle').attr('y', 5.5)
		.attr('font-size', 17.5)
		.text(p.tag);
	let tw = tagText.node().getComputedTextLength() + 9;
	tagBox.attr('x', -tw / 2).attr('y', -14).attr('width', tw).attr('height', 28)
		.attr('fill', '#fff').attr('stroke', '#000').attr('stroke-width', 2.4);

	// axis titles
	richText(g.append('text')
		.attr('text-anchor', 'middle')
		.attr('transform', 'translate(' + (plotW / 2) + ',' + (plotH + 60) + ')'),
		[ital('t'),[' [ns]']], labelFont);
	richText(g.append('text')
		.attr('text-anchor', 'middle')
		.attr('transform', 'translate(-53,' + (plotH / 2) + ') rotate(-90)'),
		[ital('x'),[' [mm]']], labelFont);

	// colour bar
	let bar = g.append('g').attr('transform', 'translate(' + (plotW + barGap) + ',0)');
	let domain = p.barDomain || [p.levels[0], p.levels[p.levels.length - 1]];
	let frac = p.barFrac || [0,1];
	let barScale = d3.scaleLinear().domain(domain).range(frac.map((f) => plotH * (1 - f)));
	bar.selectAll('rect.band')
		.data(bands)
		.enter()
		.append('rect')
		.attr('class', 'band')
		.attr('x', 0)
		.attr('width', barW)
		.attr('y', (d) => barScale(Math.min(d[1], domain[domain.length - 1])))
		.attr('height', (d) => Math.max(0, barScale(d[0]) - barScale(d[1])) + .4)
		.attr('fill', (d) => p.color((d[0] + d[1]) / 2));
	bar.append('rect')
		.attr('width', barW).attr('height', plotH)
		.attr('fill', 'none').attr('stroke', '#000').attr('stroke-width', 2);

	bar.append('g')
		.call(d3.axisLeft(barScale).tickValues(p.ticks).tickSize(4).tickFormat(''))
		.call(styleAxis);
	let barAxis = bar.append('g').attr('transform', 'translate(' + barW + ',0)')
		.call(d3.axisRight(barScale).tickValues(p.ticks).tickSize(-2).tickPadding(11).tickFormat(p.fmt || d3.format('d')))
		.call(styleAxis);
	barAxis.selectAll('text')
		.attr('font-size', tickFont).attr('fill', '#000').attr('font-family', '"DejaVu Serif", serif');
	if(p.log) {
		barAxis.selectAll('text').each(function(d) {
			let el = d3.select(this).text(null);
			if(Number.isInteger(d)) richText(el, [['10'],[String(d),'sup']], tickFont, 9.5);
		});
	}

	richText(bar.append('text')
		.attr('text-anchor', 'middle')
		.attr('transform', 'translate(' + p.labelX + ',' + (plotH / 2) + ') rotate(-90)'),
		p.label, labelFont);
});
</script>
</body>
</html>
